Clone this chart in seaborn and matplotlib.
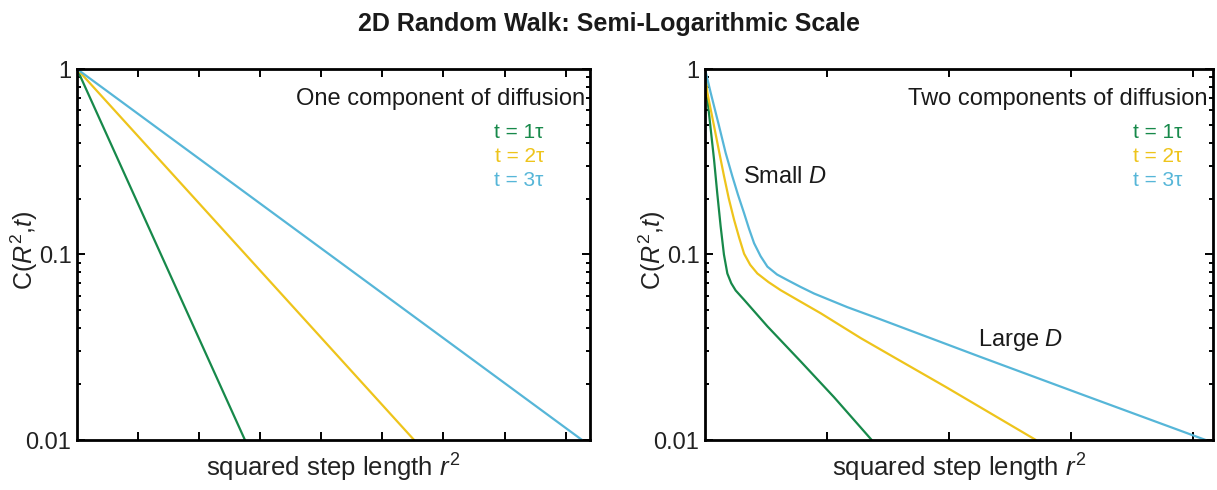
import matplotlib
matplotlib.use("Agg")
import matplotlib.pyplot as plt
import seaborn as sns
import pandas as pd
import numpy as np
from matplotlib.ticker import LogLocator, NullFormatter, FixedLocator, NullLocator

sns.set_theme(style="ticks")
FONT = ["Liberation Sans Narrow", "Liberation Sans", "DejaVu Sans"]
plt.rcParams["font.family"] = FONT
plt.rcParams["mathtext.fontset"] = "custom"
plt.rcParams["mathtext.rm"] = "Liberation Sans"
plt.rcParams["mathtext.it"] = "Liberation Sans:italic"

# ---- data ----
series_labels = ["t = 1\u03c4", "t = 2\u03c4", "t = 3\u03c4"]
colors = ["#17894a", "#eec41b", "#56b6d8"]

# left panel: one component of diffusion (straight lines on semi-log)
left_t1_x = [0.0, 2.75]
left_t1_y = [1.0, 0.01]
left_t2_x = [0.0, 5.52]
left_t2_y = [1.0, 0.01]
left_t3_x = [0.0, 8.27]
left_t3_y = [1.0, 0.01]

# right panel: two components of diffusion
right_t1_x = [0.0, 0.014, 0.040, 0.074, 0.100, 0.128, 0.155, 0.183, 0.215, 0.251, 0.320,
              0.511, 0.784, 1.057, 1.365]
right_t1_y = [1.0, 0.747, 0.520, 0.325, 0.215, 0.142, 0.100, 0.079, 0.070, 0.064, 0.057,
              0.0410, 0.0265, 0.0170, 0.01]
right_t2_x = [0.0, 0.019, 0.074, 0.115, 0.156, 0.195, 0.238, 0.280, 0.320, 0.370, 0.429,
              0.520, 0.620, 0.780, 0.948, 1.276, 1.549, 1.973, 2.71]
right_t2_y = [1.0, 0.747, 0.493, 0.360, 0.264, 0.200, 0.154, 0.123, 0.101, 0.088, 0.079,
              0.071, 0.0642, 0.0558, 0.0482, 0.0354, 0.0279, 0.0193, 0.01]
right_t3_x = [0.0, 0.046, 0.115, 0.169, 0.224, 0.270, 0.320, 0.360, 0.402, 0.455, 0.511,
              0.590, 0.675, 0.780, 0.893, 1.166, 1.426, 2.246, 3.066, 4.10]
right_t3_y = [1.0, 0.747, 0.493, 0.353, 0.264, 0.210, 0.167, 0.138, 0.115, 0.098, 0.086,
              0.078, 0.0728, 0.067, 0.0616, 0.052, 0.045, 0.0282, 0.0178, 0.01]

def frame(xs, ys):
    rows = []
    for lab, x, y in zip(series_labels, xs, ys):
        for a, b in zip(x, y):
            rows.append({"x": a, "y": b, "series": lab})
    return pd.DataFrame(rows)

left_df = frame([left_t1_x, left_t2_x, left_t3_x], [left_t1_y, left_t2_y, left_t3_y])
right_df = frame([right_t1_x, right_t2_x, right_t3_x], [right_t1_y, right_t2_y, right_t3_y])

fig = plt.figure(figsize=(12.17, 4.90), dpi=100)
axL = fig.add_axes([77 / 1217, 50 / 490, 513 / 1217, 371 / 490])
axR = fig.add_axes([705 / 1217, 50 / 490, 508 / 1217, 371 / 490])

palette = dict(zip(series_labels, colors))

for ax, df, xmax, xticks, title, in [
    (axL, left_df, 8.4, [1, 2, 3, 4, 5, 6, 7, 8], "One component of diffusion"),
    (axR, right_df, 4.16, [1, 2, 3, 4], "Two components of diffusion"),
]:
    sns.lineplot(data=df, x="x", y="y", hue="series", palette=palette, sort=False,
                 estimator=None, linewidth=1.6, legend=False, ax=ax)
    for ln in ax.get_lines():
        ln.set_solid_joinstyle("round")
    ax.set_yscale("log")
    ax.set_ylim(0.01, 1)
    ax.set_xlim(0, xmax)
    ax.xaxis.set_major_locator(FixedLocator(xticks))
    ax.xaxis.set_minor_locator(NullLocator())
    ax.set_xticklabels([])
    ax.yaxis.set_major_locator(FixedLocator([0.01, 0.1, 1]))
    ax.set_yticklabels(["0.01", "0.1", "1"])
    ax.yaxis.set_minor_locator(LogLocator(base=10, subs=np.arange(2, 10)))
    ax.yaxis.set_minor_formatter(NullFormatter())
    ax.tick_params(which="both", direction="in", top=True, right=True, width=1.4, color="black")
    ax.tick_params(which="major", length=6)
    ax.tick_params(which="minor", length=3)
    ax.tick_params(axis="y", which="major", labelsize=17, pad=4, labelcolor="#222222")
    for s in ax.spines.values():
        s.set_linewidth(2.0)
        s.set_color("black")
    ax.set_xlabel(r"squared step length $r^{2}$", fontsize=18.5, labelpad=5, color="#222222")
    ax.set_ylabel(r"$\mathrm{C(}R^{2}\mathrm{,}t\mathrm{)}$", fontsize=18, color="#222222")
    ax.yaxis.set_label_coords(-0.073, 0.51)
    ax.text(0.99, 0.92, title, transform=ax.transAxes, ha="right", va="center",
            fontsize=17, color="#1a1a1a")
    for i, (lab, c) in enumerate(zip(series_labels, colors)):
        ax.text(0.91 if ax is axL else 0.94, 0.83 - i * 0.065, lab, transform=ax.transAxes,
                ha="right", va="center", fontsize=15, color=c)

axR.text(0.075, 0.71, r"Small $D$", transform=axR.transAxes, ha="left", va="center",
         fontsize=17, color="#1a1a1a")
axR.text(0.538, 0.27, r"Large $D$", transform=axR.transAxes, ha="left", va="center",
         fontsize=17, color="#1a1a1a")

fig.text(0.5, 0.952, "2D Random Walk: Semi-Logarithmic Scale", ha="center", va="center",
         fontsize=18, fontweight="bold", color="#1a1a1a")

fig.savefig("out.png", dpi=100)
